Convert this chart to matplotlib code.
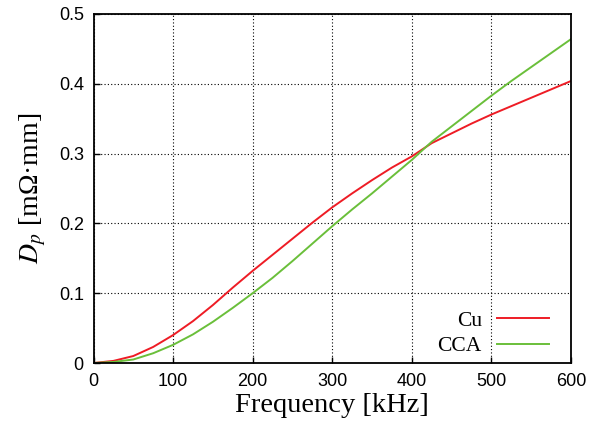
import matplotlib
matplotlib.use("Agg")
import matplotlib.pyplot as plt

# frequency in kHz, D_p in mOhm*mm
freq = [0, 25, 50, 75, 100, 125, 150, 175, 200, 225, 250, 275, 300,
        325, 350, 375, 400, 425, 450, 475, 500, 525, 550, 575, 600]
cu = [0.0, 0.003, 0.010, 0.023, 0.040, 0.060, 0.083, 0.108, 0.132, 0.155, 0.178, 0.201, 0.223,
      0.243, 0.262, 0.280, 0.296, 0.315, 0.329, 0.343, 0.356, 0.368, 0.380, 0.392, 0.404]
cca = [0.0, 0.0015, 0.005, 0.014, 0.026, 0.041, 0.059, 0.079, 0.100, 0.122, 0.146, 0.171, 0.196,
       0.220, 0.243, 0.267, 0.291, 0.317, 0.339, 0.361, 0.383, 0.404, 0.424, 0.444, 0.464]

xticks = [0, 100, 200, 300, 400, 500, 600]
yticks = [0, 0.1, 0.2, 0.3, 0.4, 0.5]
ytick_labels = ["0", "0.1", "0.2", "0.3", "0.4", "0.5"]

plt.rcParams["mathtext.fontset"] = "stix"

fig = plt.figure(figsize=(6.02, 4.28), dpi=100)
ax = fig.add_axes([93.5 / 602, 1 - 363 / 428, (571 - 93.5) / 602, (363 - 14) / 428])

ax.plot(freq, cu, color="#ee1c25", lw=1.4, label="Cu")
ax.plot(freq, cca, color="#6abf3a", lw=1.4, label="CCA")

ax.set_xlim(0, 600)
ax.set_ylim(0, 0.5)
ax.set_xticks(xticks)
ax.set_yticks(yticks)
ax.set_yticklabels(ytick_labels)
ax.tick_params(direction="in", length=4, width=1, labelsize=13, pad=7)
for lab in ax.get_xticklabels() + ax.get_yticklabels():
    lab.set_family("Liberation Sans")
ax.grid(True, color="black", ls=(0, (1, 2)), lw=0.8)
for sp in ax.spines.values():
    sp.set_linewidth(1.3)

ax.set_xlabel("Frequency [kHz]", family="Liberation Serif", fontsize=20.5, labelpad=2)
ax.set_ylabel(r"$D_p$ [mΩ·mm]", family="Liberation Serif", fontsize=20, labelpad=8)

ax.legend(loc="lower right", frameon=False, markerfirst=False, handlelength=2.4,
          prop={"family": "Liberation Serif", "size": 15.5}, borderaxespad=0.0,
          bbox_to_anchor=(0.971, -0.006), labelspacing=0.25, handletextpad=0.7)

fig.savefig("out.png", dpi=100)
